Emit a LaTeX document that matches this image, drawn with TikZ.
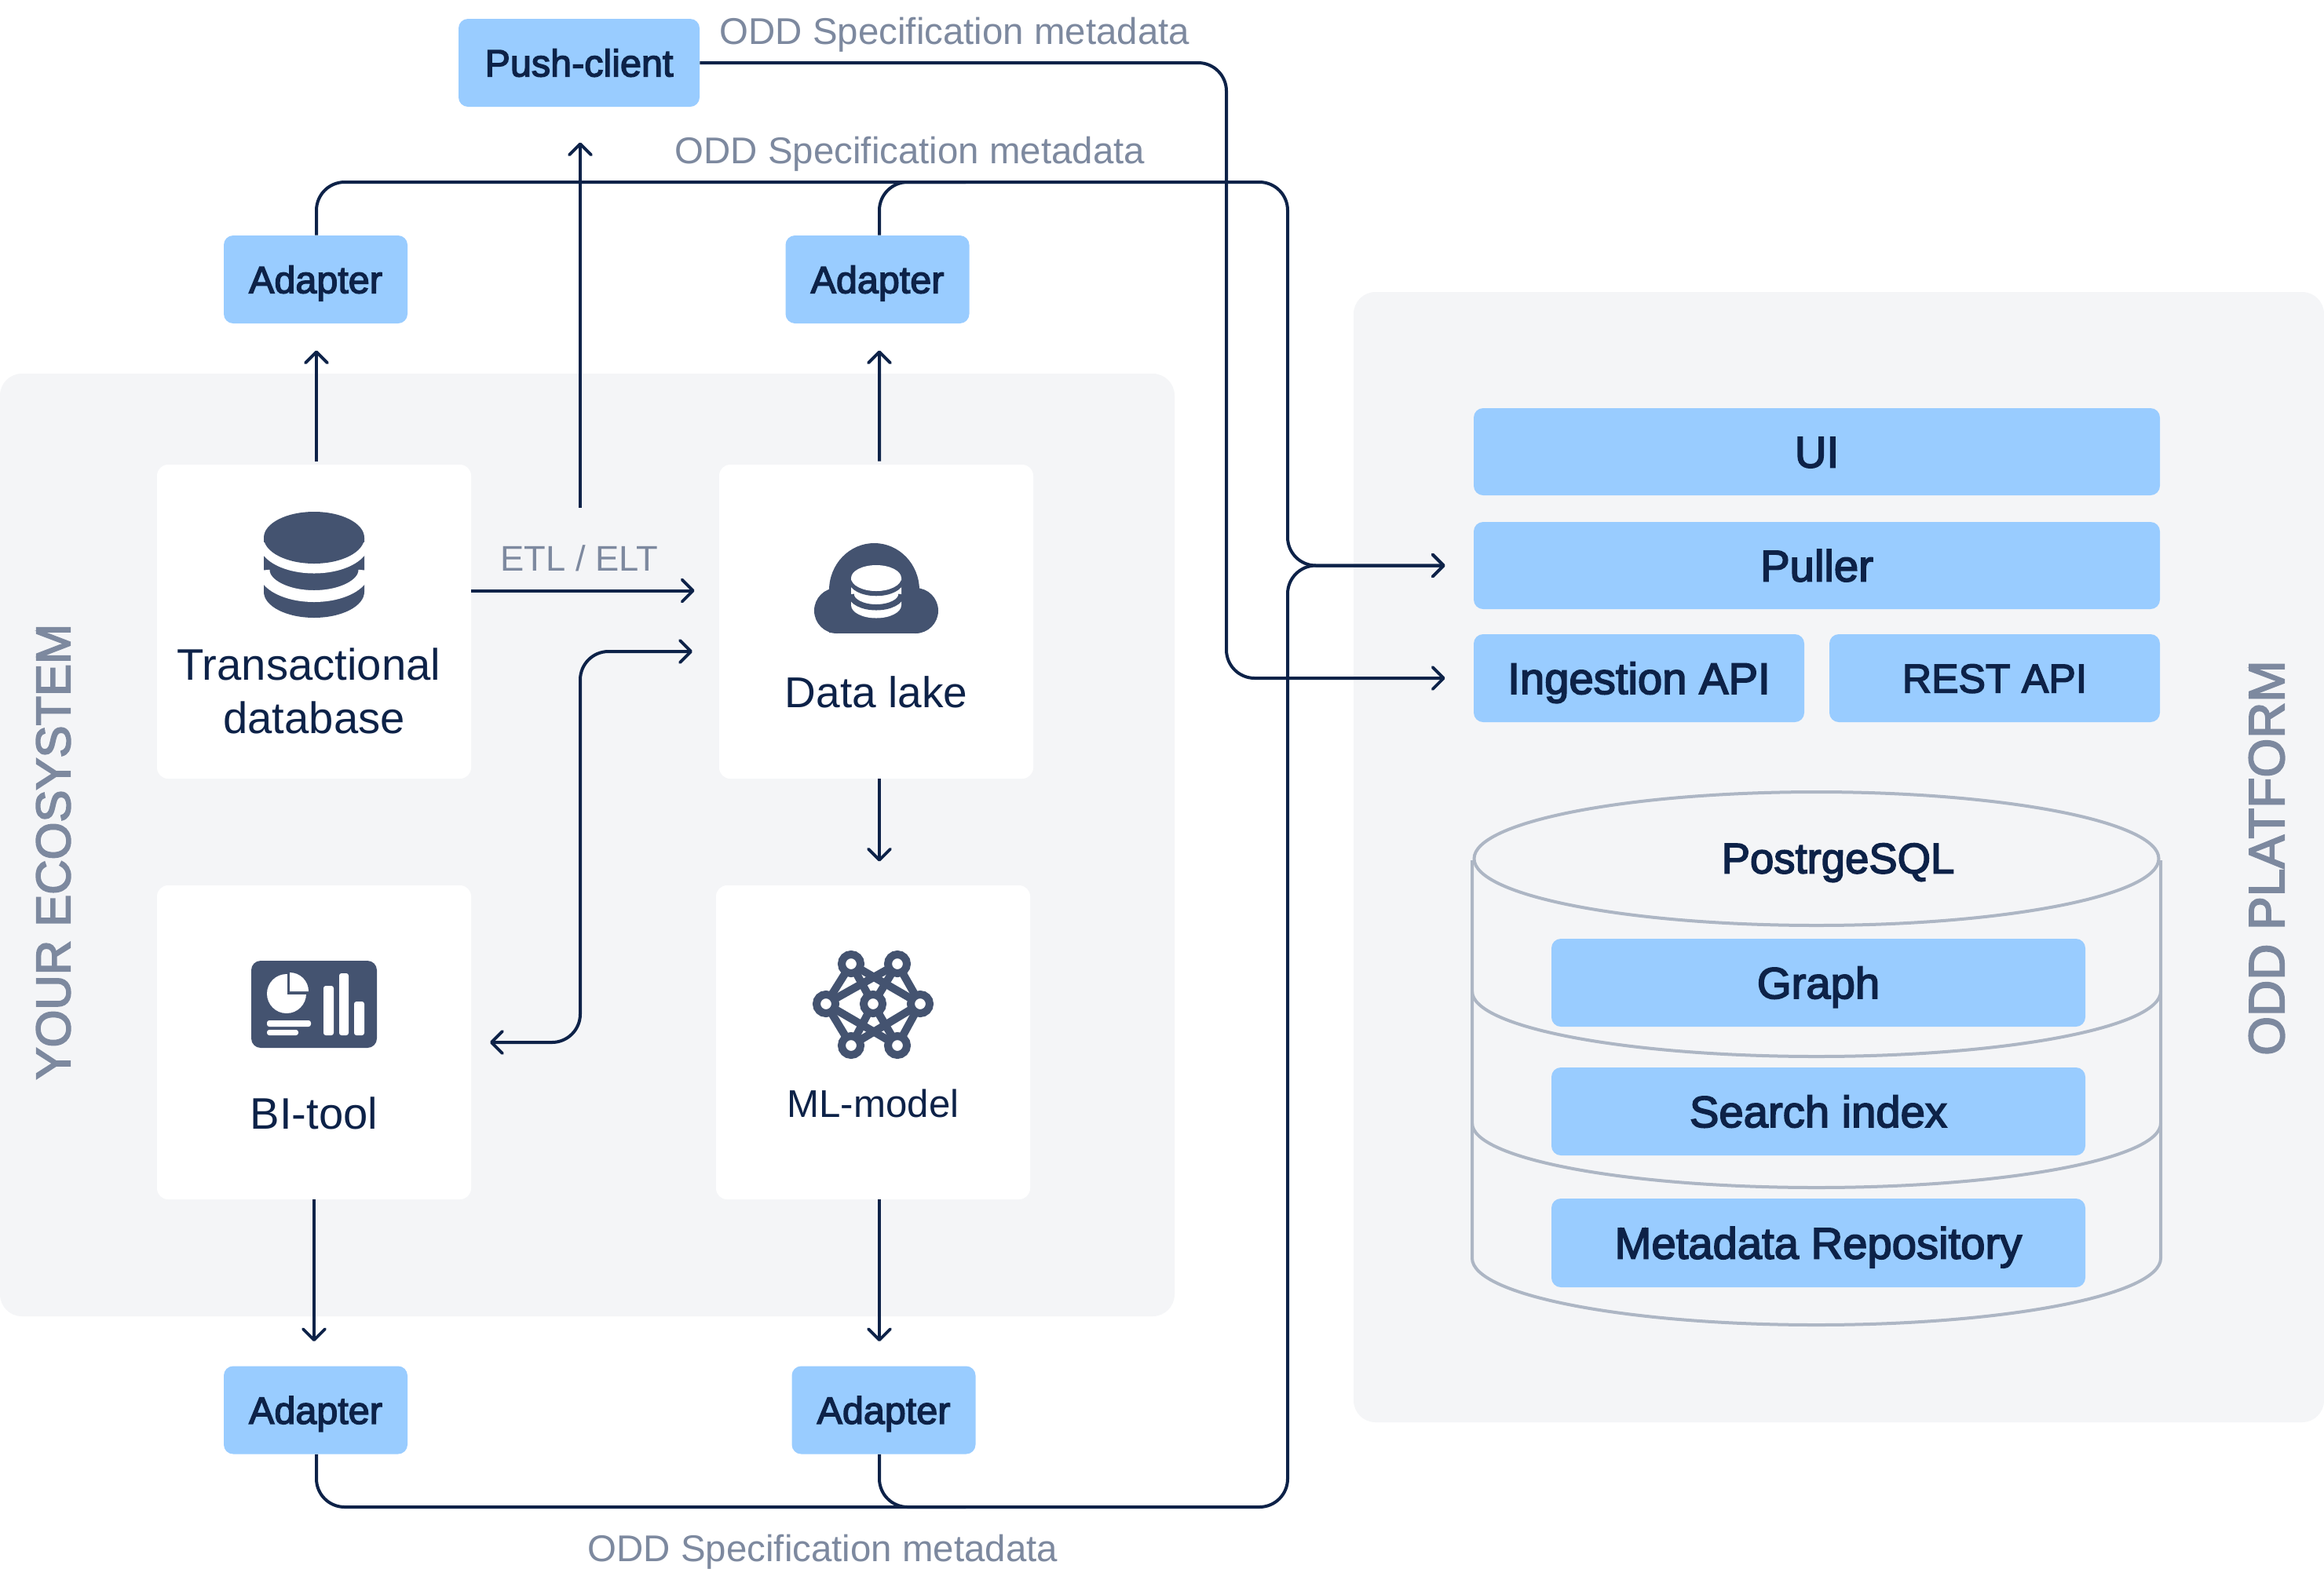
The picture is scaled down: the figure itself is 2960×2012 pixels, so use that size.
\documentclass[tikz,border=0pt]{standalone}
\usepackage{fontspec}
\setmainfont{Liberation Sans}
\newfontfamily\medfont[FakeBold=3]{Liberation Sans}
\usetikzlibrary{arrows.meta}
\definecolor{panelc}{HTML}{F4F5F7}
\definecolor{bluec}{HTML}{99CCFF}
\definecolor{inkc}{HTML}{0D2248}
\definecolor{grayc}{HTML}{7D899F}
\definecolor{iconc}{HTML}{445370}
\definecolor{cylc}{HTML}{ADB6C4}
\newcommand{\px}{0.02cm}
\newcommand{\dbicon}[5]{%
\begin{scope}[shift={(#1,#2)},scale=#3]
\fill[#4] (-64,-35) -- (-64,34) arc[start angle=180,end angle=360,x radius=64*\px,y radius=33*\px] -- (64,-35) -- cycle;
\draw[#5,line width=13*#3*\px] (-64,-29) arc[start angle=180,end angle=360,x radius=64*\px,y radius=33*\px];
\draw[#5,line width=15*#3*\px] (-64,6.5) arc[start angle=180,end angle=360,x radius=64*\px,y radius=33*\px];
\fill[#4] (0,-35) ellipse [x radius=64*\px,y radius=33*\px];
\end{scope}}
\tikzset{
 panel/.style={fill=panelc,rounded corners=28*\px},
 whitebox/.style={rectangle,fill=white,rounded corners=14*\px,minimum width=400*\px,minimum height=400*\px,inner sep=0pt},
 bluebox/.style={rectangle,fill=bluec,rounded corners=12*\px,inner sep=0pt,text=inkc,text height=22.9pt,text depth=0pt,font=\medfont\fontsize{32pt}{38pt}\selectfont},
 adapterbox/.style={bluebox,minimum width=234*\px,minimum height=112*\px,text height=19.8pt,font=\medfont\fontsize{27.6pt}{33pt}\selectfont},
 conn/.style={draw=inkc,line width=4*\px,rounded corners=36*\px,line join=round},
 tipped/.style={-{Straight Barb[length=8pt,width=16pt,line width=2.2pt,round]}},
 lab/.style={text=inkc,inner sep=0pt,align=center,font=\fontsize{32pt}{38.7pt}\selectfont},
 note/.style={text=grayc,inner sep=0pt,text height=19.3pt,text depth=0pt,font=\fontsize{27pt}{32pt}\selectfont},
 side/.style={text=grayc,inner sep=0pt,rotate=90,font=\medfont\fontsize{35pt}{40pt}\selectfont},
 cyl/.style={draw=cylc,line width=4*\px},
 mlline/.style={draw=iconc,line width=10*\px},
 mlnode/.style={draw=iconc,fill=white,line width=10*\px},
}
\begin{document}
\begin{tikzpicture}[x=0.02cm,y=-0.02cm]
\useasboundingbox (0,0) rectangle (2960,2012);
\fill[white] (0,0) rectangle (2960,2012);
% panels
\fill[panel] (0,476) rectangle (1496,1677);
\fill[panel] (1724,372) rectangle (2960,1812);
% white boxes
\node[whitebox] (trans) at (400,792) {};
\node[whitebox] (lake) at (1116,792) {};
\node[whitebox] (bi) at (400,1328) {};
\node[whitebox] (ml) at (1112,1328) {};
% adapters
\node[adapterbox] (a1) at (402,356) {Adapter};
\node[adapterbox] (a2) at (1117.5,356) {Adapter};
\node[adapterbox] (a3) at (402,1796.5) {Adapter};
\node[adapterbox] (a4) at (1125.5,1796.5) {Adapter};
\node[adapterbox,minimum width=307*\px] (push) at (737.5,80) {Push-client};
% platform boxes
\node[bluebox,minimum width=874*\px,minimum height=111*\px] (ui) at (2314,575.5) {UI};
\node[bluebox,minimum width=874*\px,minimum height=111*\px] (puller) at (2314,720.5) {Puller};
\node[bluebox,minimum width=421*\px,minimum height=112*\px] (ing) at (2087.5,864) {Ingestion API};
\node[bluebox,minimum width=421*\px,minimum height=112*\px,text height=21pt,font=\medfont\fontsize{29.4pt}{35pt}\selectfont] (rest) at (2540.5,864) {REST API};
% cylinder
\draw[cyl] (2313.5,1094) ellipse [x radius=436*\px,y radius=85*\px];
\draw[cyl] (1875,1096) -- (1875,1603) arc[start angle=180,end angle=360,x radius=438.5*\px,y radius=85*\px] -- (2752,1096);
\draw[cyl] (1875,1263) arc[start angle=180,end angle=360,x radius=438.5*\px,y radius=83*\px];
\draw[cyl] (1875,1431) arc[start angle=180,end angle=360,x radius=438.5*\px,y radius=82*\px];
\node[bluebox,minimum width=680*\px,minimum height=112*\px] (graph) at (2316,1252) {Graph};
\node[bluebox,minimum width=680*\px,minimum height=112*\px] (search) at (2316,1416) {Search index};
\node[bluebox,minimum width=680*\px,minimum height=113*\px] (meta) at (2316,1583.5) {Metadata Repository};
\node[lab,text height=22.2pt,text depth=0pt,font=\medfont\fontsize{31pt}{37pt}\selectfont] (pg) at (2341,1093) {PostrgeSQL};
% box labels
\node[lab] (transl) at (400,880) {Transactional\hspace*{7.5pt}\\database};
\node[lab,font=\fontsize{31.3pt}{38pt}\selectfont] (lakel) at (1116,882) {Data lake};
\node[lab] (bil) at (400,1418) {BI-tool};
\node[lab,font=\fontsize{28pt}{34pt}\selectfont] (mll) at (1112,1406) {ML-model};
% notes
\node[note] (n1) at (1216,40) {ODD Specification metadata};
\node[note] (n2) at (1159,192) {ODD Specification metadata};
\node[note] (n3) at (1048,1973) {ODD Specification metadata};
\node[note,font=\fontsize{25.8pt}{31pt}\selectfont] (n4) at (738,711) {ETL / ELT};
\node[side] (s1) at (68,1085) {YOUR ECOSYSTEM};
\node[side,font=\medfont\fontsize{36.4pt}{42pt}\selectfont] (s2) at (2887,1093) {ODD PLATFORM};
% free-end coordinates
\coordinate (pstart) at (739,647);
\coordinate (spine) at (1640,1000);
\coordinate (pushv) at (1562,500);
\coordinate (bidi) at (739,1000);
\coordinate (biend) at (600,1328);
\coordinate (lakeend) at (916,830);
\coordinate (lakein) at (600,752.5);
\coordinate (topy) at (1000,232);
\coordinate (boty) at (1000,1920);
\coordinate (tjoin) at (1230,232);
\coordinate (bjoin) at (1230,1920);
% connectors
\draw[conn,tipped,shorten <=4*\px,shorten >=34*\px] ([xshift=3*\px]trans.north) -- ([xshift=1*\px]a1.south);
\draw[conn,tipped,shorten <=4*\px,shorten >=34*\px] ([xshift=4*\px]lake.north) -- ([xshift=2.5*\px]a2.south);
\draw[conn,tipped,shorten >=31*\px] (trans.east |- lakein) -- (lake.west |- lakein);
\draw[conn,tipped,shorten >=30*\px] ([xshift=4*\px]lake.south) -- ([xshift=8*\px]ml.north);
\draw[conn,tipped,shorten >=31*\px] (bi.south) -- (a3.north -| bi.south);
\draw[conn,tipped,shorten >=31*\px] ([xshift=8*\px]ml.south) -- ([xshift=-5.5*\px]a4.north);
\draw[conn,tipped,shorten >=45*\px] (pstart) -- (pstart |- push.south);
\draw[conn,{Straight Barb[length=8pt,width=16pt,line width=2.2pt,round]}-{Straight Barb[length=8pt,width=16pt,line width=2.2pt,round]},shorten <=24*\px,shorten >=34*\px] (biend) -| (bidi) |- (lakeend);
% metadata lines
\draw[conn,tipped,shorten >=36*\px] ([xshift=1*\px]a1.north) |- (spine |- topy) -- (spine |- puller.west) -- (puller.west);
\draw[conn] ([xshift=2.5*\px]a2.north) |- (tjoin);
\draw[conn,tipped,shorten >=36*\px] ([xshift=1*\px]a3.south) |- (spine |- boty) -- (spine |- puller.west) -- (puller.west);
\draw[conn] ([xshift=-5.5*\px]a4.south) |- (bjoin);
\draw[conn,tipped,shorten >=36*\px] (push.east) -| (pushv) |- (ing.west);
% database icon
\dbicon{400}{720}{1}{iconc}{white}
% cloud icon
\fill[iconc] (1056,806) -- (1056,752) arc[start angle=180,end angle=0,x radius=57.5*\px,y radius=60*\px] -- (1171,806) -- cycle;
\fill[iconc] (1066,778) circle (29*\px);
\fill[iconc] (1166,778) circle (29*\px);
\fill[iconc] (1066,770) rectangle (1166,807);
\dbicon{1116}{754}{0.5}{white}{iconc}
% BI icon
\fill[iconc,rounded corners=12*\px] (320,1224) rectangle (480,1335);
\fill[white] (365,1266) circle (25*\px);
\fill[iconc] (366,1236) rectangle (395,1266.5);
\fill[white] (369,1239) arc[start angle=90,end angle=0,radius=24*\px] -- (369,1263) -- cycle;
\fill[white,rounded corners=3*\px] (340,1300) rectangle (396,1308);
\fill[white,rounded corners=3*\px] (340,1312) rectangle (380,1319);
\fill[white,rounded corners=3*\px] (412,1256) rectangle (425,1319);
\fill[white,rounded corners=3*\px] (432,1240) rectangle (444,1319);
\fill[white,rounded corners=3*\px] (451,1276) rectangle (464,1319);
% ML icon
\foreach \a/\b in {1084/1228,1143/1228,1084/1332,1143/1332}{
  \draw[mlline] (\a,\b) -- (1112,1279);
}
\draw[mlline] (1084,1228) -- (1052,1279) -- (1084,1332);
\draw[mlline] (1143,1228) -- (1172,1279) -- (1143,1332);
\draw[mlline] (1052,1279) -- (1143,1228);
\draw[mlline] (1172,1279) -- (1084,1228);
\draw[mlline] (1052,1279) -- (1143,1332);
\draw[mlline] (1172,1279) -- (1084,1332);
\foreach \a/\b in {1084/1228,1143/1228,1052/1279,1172/1279,1084/1332,1143/1332,1112/1279}{
  \draw[mlnode] (\a,\b) circle (12*\px);
}
\end{tikzpicture}
\end{document}
